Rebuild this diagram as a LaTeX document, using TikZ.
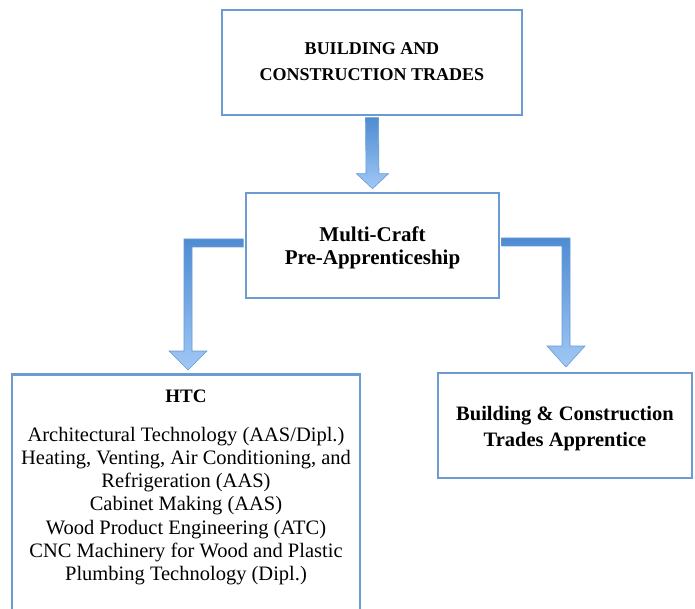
\documentclass[tikz,border=0pt]{standalone}
\usepackage{fontspec}
\setmainfont{Liberation Serif}
\usetikzlibrary{calc}
\definecolor{boxblue}{RGB}{108,155,210}
\definecolor{arrdark}{RGB}{78,140,210}
\definecolor{arrlight}{RGB}{160,200,245}
\definecolor{arredge}{RGB}{105,155,215}
\tikzset{
  box/.style={draw=boxblue, line width=2.6pt, fill=white, rectangle, inner sep=0pt},
  headtxt/.style={align=center, font=\bfseries\fontsize{18}{26}\selectfont},
  fatarrow/.style={draw=arredge, line width=0.6pt, top color=arrdark, bottom color=arrlight},
}
\begin{document}
\begin{tikzpicture}[x=1pt,y=-1pt]
\useasboundingbox (0,0) rectangle (695,609);
\clip (0,0) rectangle (695,609);
\fill[white] (0,0) rectangle (695,609);

% boxes
\node[box, minimum width=300pt, minimum height=105pt] (top) at (372,62.5) {};
\node[headtxt] (toptxt) at ($(top.center)+(0,-1)$) {BUILDING AND\\CONSTRUCTION TRADES};

\node[box, minimum width=253pt, minimum height=105pt] (mid) at (372.5,245.5) {};
\node[headtxt, font=\bfseries\fontsize{21}{23}\selectfont] (midtxt) at ($(mid.center)+(0,2.5)$) {Multi-Craft\\Pre-Apprenticeship};

\node[box, minimum width=348pt, minimum height=280pt, anchor=north] (htc) at (186,373) {};
\node[anchor=north, align=center, font=\fontsize{20.5}{23.2}\selectfont] (htctxt) at ($(htc.north)+(0,13)$)
  {{\bfseries\fontsize{19}{23}\selectfont HTC}\\[16pt]
   Architectural Technology (AAS/Dipl.)\\
   Heating, Venting, Air Conditioning, and\\
   Refrigeration (AAS)\\
   Cabinet Making (AAS)\\
   Wood Product Engineering (ATC)\\
   CNC Machinery for Wood and Plastic\\
   Plumbing Technology (Dipl.)};

\node[box, minimum width=254pt, minimum height=105pt] (app) at (565,425.5) {};
\node[headtxt, font=\bfseries\fontsize{20.5}{26}\selectfont] (apptxt) at ($(app.center)+(0,3)$) {Building \& Construction\\Trades Apprentice};

% top arrow
\path[fatarrow]
  ($(top.south)+(-6.5,1.3)$) -- ($(mid.north)+(-6.5,-18)$) -- ($(mid.north)+(-16,-18)$)
  -- ($(mid.north)+(0,-3)$) -- ($(mid.north)+(16,-18)$) -- ($(mid.north)+(6.5,-18)$)
  -- ($(top.south)+(6.5,1.3)$) -- cycle;

% left connector
\coordinate (lh) at ($(mid.west)+(0,-2.5)$);
\coordinate (lc) at ($(htc.north)+(2,0)$);
\coordinate (lk) at (lc |- lh);
\path[fatarrow]
  ($(lh)+(-1.3,-4)$) -- ($(lk)+(-4,-4)$)
  -- ($(lc)+(-4,-22)$) -- ($(lc)+(-19,-22)$) -- ($(lc)+(0,-3)$) -- ($(lc)+(19,-22)$)
  -- ($(lc)+(4,-22)$) -- ($(lk)+(4,4)$)
  -- ($(lh)+(-1.3,4)$) -- cycle;

% right connector
\coordinate (rh) at ($(mid.east)+(0,-3.5)$);
\coordinate (rc) at (566,373);
\coordinate (rk) at (rc |- rh);
\path[fatarrow]
  ($(rh)+(1.3,-4)$) -- ($(rk)+(4,-4)$)
  -- ($(rc)+(4,-27)$) -- ($(rc)+(19,-27)$) -- ($(rc)+(0,-6)$) -- ($(rc)+(-19,-27)$)
  -- ($(rc)+(-4,-27)$) -- ($(rk)+(-4,4)$)
  -- ($(rh)+(1.3,4)$) -- cycle;
\end{tikzpicture}
\end{document}
